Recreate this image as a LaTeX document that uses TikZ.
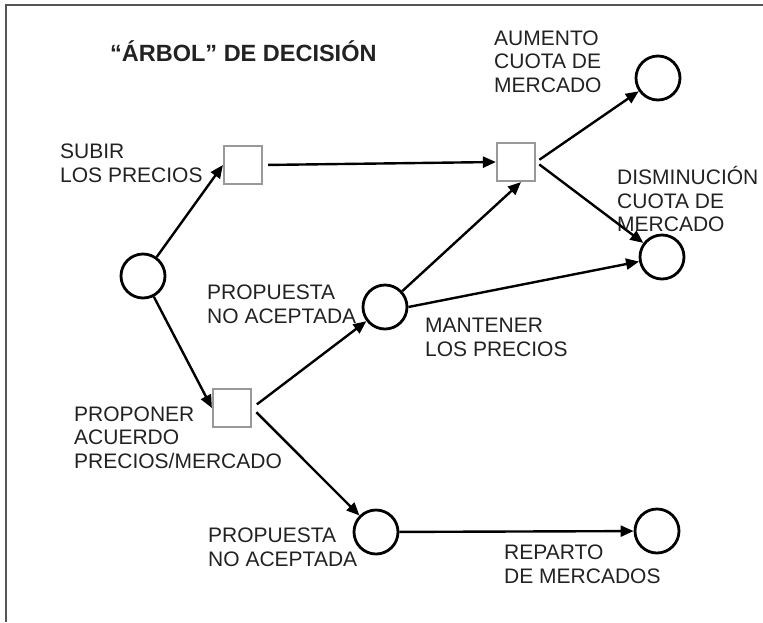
\documentclass[tikz,border=0pt]{standalone}
\usepackage{fontspec}
\setmainfont{Liberation Sans}
\usetikzlibrary{arrows.meta}
\definecolor{txt}{HTML}{222222}
\definecolor{sqgray}{HTML}{999999}
\definecolor{framegray}{HTML}{555555}
\tikzset{
  chance/.style={circle, draw=black, line width=2.8pt, minimum size=44pt, inner sep=0pt},
  decision/.style={rectangle, draw=sqgray, line width=2.2pt, minimum size=38pt, inner sep=0pt, fill=white},
  lbl/.style={anchor=base west, inner sep=0pt, align=left, text=txt,
    font=\fontsize{21pt}{23.3pt}\selectfont},
  ttl/.style={anchor=base west, inner sep=0pt, text=txt,
    font=\fontsize{23.5pt}{26pt}\selectfont\bfseries},
  arr/.style={line width=2.4pt, -{Triangle[length=13pt,width=11pt]}}
}
\begin{document}
\begin{tikzpicture}[x=1pt,y=-1pt]
\useasboundingbox (0,0) rectangle (763,622);
\draw[framegray, line width=2pt] (5.5,622) -- (5.5,4.5) -- (763,4.5);

\node[ttl] (title) at (110,61) {“ÁRBOL” DE DECISIÓN};

\node[chance] (root) at (143,276) {};
\node[decision] (sq1) at (243,165) {};
\node[decision] (sq2) at (516,162) {};
\node[decision] (sq3) at (232,408) {};
\node[chance] (aum) at (658,78) {};
\node[chance] (dis) at (662,257) {};
\node[chance] (mid) at (385,307) {};
\node[chance] (low) at (376,532) {};
\node[chance] (rep) at (657,531) {};

% anchor base = baseline of the last line
\node[lbl] (l1) at (60,182) {SUBIR\\LOS PRECIOS};
\node[lbl] (l2) at (494,92) {AUMENTO\\CUOTA DE\\MERCADO};
\node[lbl] (l3) at (617,231.5) {DISMINUCIÓN\\CUOTA DE\\MERCADO};
\node[lbl] (l4) at (207,323) {PROPUESTA\\NO ACEPTADA};
\node[lbl] (l5) at (425,356) {MANTENER\\LOS PRECIOS};
\node[lbl] (l6) at (74,468) {PROPONER\\ACUERDO\\PRECIOS/MERCADO};
\node[lbl] (l7) at (208,566) {PROPUESTA\\NO ACEPTADA};
\node[lbl] (l8) at (504,583) {REPARTO\\DE MERCADOS};

\draw[arr] (root) -- (sq1.west);
\draw[arr, shorten <=5pt] (sq1.east) -- (sq2.west);
\draw[arr] (root) -- (sq3.west);
\draw[arr, shorten <=6pt] (sq3.east) -- (mid);
\draw[arr, shorten <=6pt] (sq3.east) -- (low);
\draw[arr] (mid) -- ([xshift=5pt]sq2.south);
\draw[arr] (mid.east) -- (dis);
\draw[arr, shorten <=4pt] (sq2.east) -- (aum);
\draw[arr, shorten <=4pt] (sq2.east) -- (dis);
\draw[arr] (low) -- (rep);
\end{tikzpicture}
\end{document}
